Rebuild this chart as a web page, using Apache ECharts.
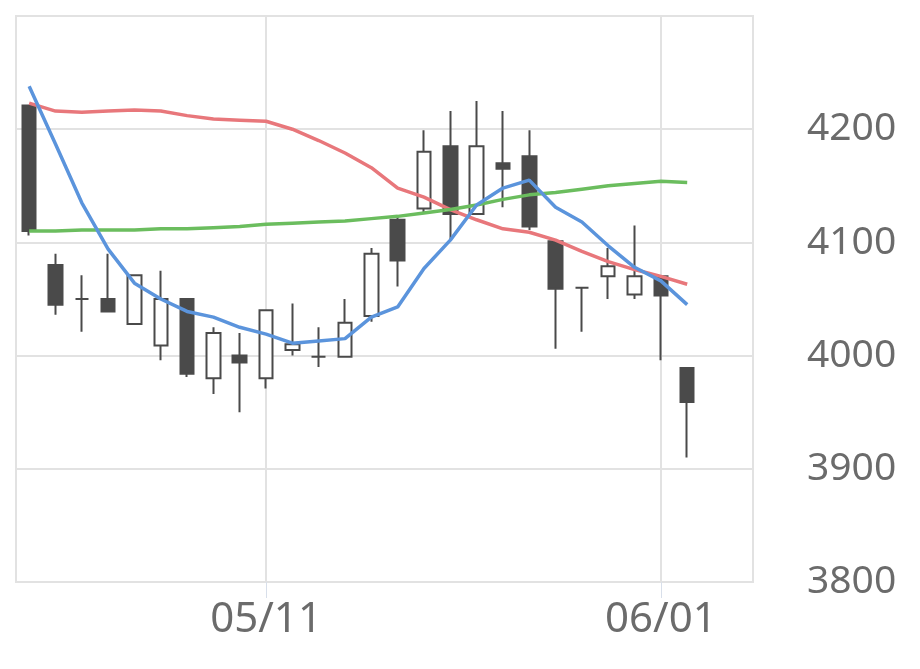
<!DOCTYPE html>
<html>
<head>
<meta charset="utf-8">
<script src="https://cdn.jsdelivr.net/npm/echarts@6/dist/echarts.min.js"></script>
<style>
  html, body { margin: 0; padding: 0; background: #fff; }
  #chart { width: 920px; height: 669px; }
</style>
</head>
<body>
<div id="chart"></div>
<script>
// trading days shown on the axis (last two are empty slots)
let dates = ['04/28', '04/29', '04/30', '05/01', '05/04', '05/05', '05/06', '05/07', '05/08',
  '05/11', '05/12', '05/13', '05/14', '05/15', '05/18', '05/19', '05/20', '05/21', '05/22',
  '05/25', '05/26', '05/27', '05/28', '05/29', '06/01', '06/02', '06/03', '06/04']

let opens  = [4221, 4080, 4050, 4050, 4028, 4009, 4050, 3980, 4000, 3980, 4005, 3999, 3999, 4035, 4120, 4130, 4185, 4125, 4170, 4176, 4101, 4060, 4070, 4054, 4070, 3989]
let closes = [4110, 4045, 4050, 4039, 4071, 4050, 3984, 4020, 3994, 4040, 4010, 3999, 4029, 4090, 4084, 4180, 4125, 4185, 4165, 4114, 4059, 4060, 4079, 4070, 4053, 3959]
let lows   = [4106, 4036, 4021, 4039, 4028, 3996, 3981, 3966, 3950, 3971, 4000, 3990, 3999, 4030, 4061, 4126, 4103, 4125, 4131, 4111, 4006, 4021, 4050, 4050, 3996, 3910]
let highs  = [4221, 4090, 4071, 4090, 4071, 4075, 4050, 4025, 4020, 4040, 4046, 4025, 4050, 4095, 4124, 4199, 4216, 4225, 4216, 4199, 4101, 4060, 4095, 4115, 4070, 3989]

let ma5  = [4238, 4187, 4135, 4094, 4064, 4050, 4039, 4034, 4025, 4019, 4011, 4013, 4015, 4034, 4043, 4077, 4102, 4133, 4148, 4155, 4131, 4118, 4097, 4078, 4066, 4045]
let ma25 = [4223, 4216, 4215, 4216, 4217, 4216, 4212, 4209, 4208, 4207, 4200, 4190, 4179, 4166, 4148, 4140, 4129, 4120, 4112, 4109, 4102, 4092, 4083, 4076, 4070, 4063]
let ma75 = [4110, 4110, 4111, 4111, 4111, 4112, 4112, 4113, 4114, 4116, 4117, 4118, 4119, 4121, 4123, 4126, 4129, 4133, 4138, 4142, 4144, 4147, 4150, 4152, 4154, 4153]

let shownDates = ['05/11', '06/01']

let candles = []
opens.forEach((o, i) => {
  candles.push([o, closes[i], lows[i], highs[i]])
})

let myChart = echarts.init(document.getElementById('chart'))
let fontFamily = '"Noto Sans", "Open Sans", sans-serif'
let pick = (idx, val) => shownDates.indexOf(val) >= 0

let option = {
  animation: false,
  grid: {
    left: 16,
    right: 167,
    top: 16,
    bottom: 87,
    show: true,
    borderColor: '#e2e2e2',
    borderWidth: 2
  },
  xAxis: {
    type: 'category',
    data: dates,
    boundaryGap: true,
    axisLine: { show: true, lineStyle: { color: '#e2e2e2', width: 2 } },
    axisTick: {
      show: true,
      interval: pick,
      alignWithLabel: true,
      length: 16,
      lineStyle: { color: '#d8dfea', width: 1 }
    },
    axisLabel: {
      interval: pick,
      fontSize: 42,
      fontFamily: fontFamily,
      color: '#6b6b6b',
      margin: 17
    },
    splitLine: { show: false }
  },
  yAxis: {
    type: 'value',
    position: 'right',
    min: 3800,
    max: 4300,
    interval: 100,
    axisLine: { show: false },
    axisTick: { show: false },
    axisLabel: {
      showMaxLabel: false,
      fontSize: 39,
      fontFamily: fontFamily,
      color: '#6b6b6b',
      margin: 54,
      formatter: v => String(v)
    },
    splitLine: { lineStyle: { color: '#e2e2e2', width: 2 } }
  },
  series: [
    {
      // carries the vertical date lines through the candle centres
      name: 'dateLines',
      type: 'line',
      data: [],
      silent: true,
      z: 1,
      markLine: {
        z: 1,
        silent: true,
        symbol: 'none',
        label: { show: false },
        lineStyle: { color: '#e2e2e2', width: 2, type: 'solid' },
        data: shownDates.map(d => ({ xAxis: d }))
      }
    },
    {
      name: 'price',
      type: 'candlestick',
      barWidth: 14,
      data: candles,
      z: 2,
      itemStyle: {
        color: '#ffffff',
        color0: '#4a4a4a',
        borderColor: '#4a4a4a',
        borderColor0: '#4a4a4a',
        borderColorDoji: '#4a4a4a',
        borderWidth: 2
      }
    },
    {
      name: 'MA25',
      type: 'line',
      data: ma25,
      z: 3,
      showSymbol: false,
      lineStyle: { color: '#e8777b', width: 3.5 }
    },
    {
      name: 'MA75',
      type: 'line',
      data: ma75,
      z: 3,
      showSymbol: false,
      lineStyle: { color: '#6bbd5e', width: 3.5 }
    },
    {
      name: 'MA5',
      type: 'line',
      data: ma5,
      z: 3,
      showSymbol: false,
      lineStyle: { color: '#5b94dc', width: 3.5 }
    }
  ]
}
myChart.setOption(option)
</script>
</body>
</html>
